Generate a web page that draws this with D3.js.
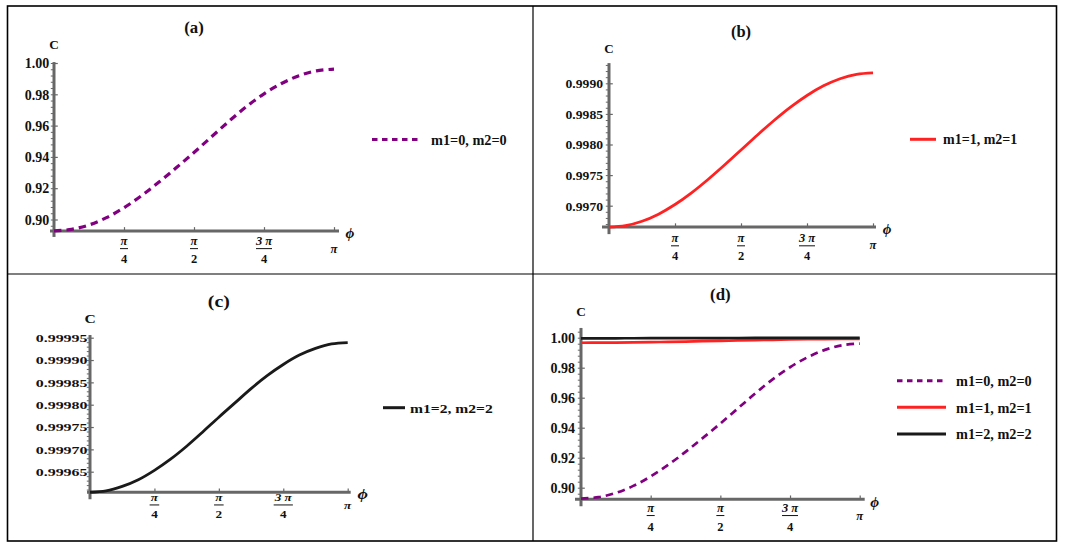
<!DOCTYPE html>
<html><head><meta charset="utf-8">
<script src="https://cdn.jsdelivr.net/npm/d3@7/dist/d3.min.js"></script>
<style>
body{margin:0;background:#fff}
svg{display:block}
text{font-family:"Liberation Serif","Times New Roman",serif;font-weight:bold;fill:#111}
</style>
</head><body>
<svg id="c" width="1067" height="549"></svg>
<script>
// ---------- data ----------
const phiOverPi = [0,0.0625,0.125,0.1875,0.25,0.3125,0.375,0.4375,0.5,0.5625,0.625,0.6875,0.75,0.8125,0.875,0.9375,1];
const cM0 = [0.8927,0.8937,0.8965,0.9012,0.9075,0.9152,0.9239,0.9332,0.9428,0.9528,0.9628,0.9722,0.9803,0.9869,0.9919,0.9950,0.9961];
const cM1 = [0.996650,0.996674,0.996746,0.996862,0.997019,0.997210,0.997428,0.997664,0.997910,0.998156,0.998392,0.998610,0.998801,0.998958,0.999074,0.999146,0.999170];
const cM2 = [0.999604,0.999607,0.999617,0.999632,0.999653,0.999678,0.999707,0.999739,0.999772,0.999804,0.999836,0.999865,0.999890,0.999911,0.999926,0.999936,0.999939];
const seriesNames = ["m1=0, m2=0","m1=1, m2=1","m1=2, m2=2"];
const seriesColors = ["#800080","#ff2222","#1a1a1a"];
const seriesDash = ["7.5,5",null,null];
const legendDash = ["5.5,4.5",null,null];

const yTicksA = [0.90,0.92,0.94,0.96,0.98,1.00];
const yLabelsA = ["0.90","0.92","0.94","0.96","0.98","1.00"];
const yTicksB = [0.9970,0.9975,0.9980,0.9985,0.9990];
const yLabelsB = ["0.9970","0.9975","0.9980","0.9985","0.9990"];
const yTicksC = [0.99965,0.99970,0.99975,0.99980,0.99985,0.99990,0.99995];
const yLabelsC = ["0.99965","0.99970","0.99975","0.99980","0.99985","0.99990","0.99995"];

const xTicks = [0.25,0.5,0.75,1];
const xTickNum = ["π","π","3 π","π"];
const xTickDen = ["4","2","4",""];
const panelTitles = ["(a)","(b)","(c)","(d)"];

// ---------- drawing ----------
const svg = d3.select("#c");
const AX = "#676767";

svg.append("rect").attr("x",7.5).attr("y",6).attr("width",1049).attr("height",535)
  .attr("fill","none").attr("stroke","#000").attr("stroke-width",1.6);
svg.append("line").attr("x1",533).attr("x2",533).attr("y1",6).attr("y2",541).attr("stroke","#000").attr("stroke-width",1.2);
svg.append("line").attr("x1",7.5).attr("x2",1056.5).attr("y1",274).attr("y2",274).attr("stroke","#000").attr("stroke-width",1.2);

const seriesData = [cM0,cM1,cM2].map(arr => arr.map((v,i)=>[phiOverPi[i],v]));

const panels = [
 {title:panelTitles[0], titleY:27.7, x0:54, x1:334, yDom:[0.90,1.00], yRng:[219.5,63], yMin:0.8927, yMax:1.0006,
  ticks:yTicksA, labels:yLabelsA, minor:0.004, fs:14, sx:1.0, lpad:4.7, series:[0], sw:3.2,
  leg:{x1:372,x2:421,tx:431,ys:[139.5],fs:14,sx:1.02},
  frac:{num:10,bar:17.7,den:27.7,pi:17.7,fs:12.5,sx:1}, xExt:[-4,5], yExt:6, phiDx:16, cDy:18},
 {title:panelTitles[1], titleY:31.7, x0:609, x1:873, yDom:[0.9970,0.9990], yRng:[205.7,83.3], yMin:0.99665, yMax:0.99933,
  ticks:yTicksB, labels:yLabelsB, minor:0.0001, fs:13, sx:1.05, lpad:6, series:[1], sw:2.8,
  leg:{x1:910,x2:936,tx:943,ys:[139.3],fs:14,sx:1.0},
  frac:{num:11,bar:18.7,den:29.3,pi:17.7,fs:12.5,sx:1}, xExt:[-7,3], yExt:7, phiDx:16, cDy:15},
 {title:panelTitles[2], titleY:301.7, x0:90, x1:347.7, yDom:[0.99965,0.99995], yRng:[471.7,337.7], yMin:0.999604, yMax:0.999956,
  ticks:yTicksC, labels:yLabelsC, minor:0.00001, fs:11, sx:1.45, lpad:2.5, series:[2], sw:2.8,
  leg:{x1:383,x2:405,tx:410,ys:[407.7],fs:13,sx:1.2},
  frac:{num:5.5,bar:12.7,den:22,pi:12.7,fs:11,sx:1.2}, xExt:[-3,3], yExt:7, phiDx:17, cDy:17},
 {title:panelTitles[3], titleY:295, x0:581, x1:859.7, yDom:[0.90,1.00], yRng:[487.7,337.7], yMin:0.8923, yMax:1.0065,
  ticks:yTicksA, labels:yLabelsA, minor:0.004, fs:14, sx:1.0, lpad:6, series:[0,1,2], sw:2.7,
  leg:{x1:897,x2:946,tx:956,ys:[380.7,407.3,434],fs:14,sx:1.02},
  frac:{num:9,bar:16.3,den:27.3,pi:16.3,fs:12.5,sx:1}, xExt:[-6,5], yExt:7, phiDx:15, cDy:16}
];

function txt(g, x, y, s, o){
  o = o||{};
  const t = g.append("text")
    .attr("transform", `translate(${x},${y}) scale(${o.sx||1},1)`)
    .attr("text-anchor", o.anchor||"middle")
    .attr("dominant-baseline","central")
    .attr("font-size", o.fs||13)
    .text(s);
  if (o.italic) t.attr("font-style","italic");
  return t;
}

panels.forEach(p => {
  const g = svg.append("g");
  const x = d3.scaleLinear().domain([0,1]).range([p.x0,p.x1]);
  const y = d3.scaleLinear().domain(p.yDom).range(p.yRng);
  const axisY = y(p.yMin);
  const topY = y(p.yMax);

  // minor y ticks (left)
  const minorVals = d3.range(Math.ceil(p.yMin/p.minor - 1e-6), Math.floor(p.yMax/p.minor + 1e-6)+1)
      .map(k => k*p.minor);
  const gMinor = g.append("g").attr("transform",`translate(${p.x0},0)`)
     .call(d3.axisLeft(y).tickValues(minorVals).tickSize(3.2).tickFormat(""));
  gMinor.select(".domain").remove();
  gMinor.selectAll("line").attr("stroke",AX).attr("stroke-width",1);

  // major y ticks with labels
  const gy = g.append("g").attr("transform",`translate(${p.x0},0)`)
     .call(d3.axisLeft(y).tickValues(p.ticks).tickSize(-3.8).tickPadding(p.lpad)
       .tickFormat((d,i)=>p.labels[i]));
  gy.select(".domain").remove();
  gy.selectAll("line").attr("stroke",AX).attr("stroke-width",1.2);
  gy.selectAll("text")
    .attr("font-family",'"Liberation Serif","Times New Roman",serif')
    .attr("font-weight","bold").attr("font-size",p.fs).attr("fill","#111")
    .attr("x", -p.lpad/p.sx).attr("dy","0.34em")
    .attr("transform",`scale(${p.sx},1)`);

  // x ticks
  const gx = g.append("g").attr("transform",`translate(0,${axisY})`)
     .call(d3.axisBottom(x).tickValues(xTicks).tickSize(-3.8).tickFormat(""));
  gx.select(".domain").remove();
  gx.selectAll("line").attr("stroke",AX).attr("stroke-width",1.2);

  // axis lines
  g.append("line").attr("x1",p.x0+p.xExt[0]).attr("x2",p.x1+p.xExt[1]).attr("y1",axisY).attr("y2",axisY)
    .attr("stroke",AX).attr("stroke-width",3);
  g.append("line").attr("x1",p.x0).attr("x2",p.x0).attr("y1",topY).attr("y2",axisY+p.yExt)
    .attr("stroke",AX).attr("stroke-width",3);

  // x tick labels (fractions of pi)
  const f = p.frac;
  xTicks.forEach((v,i)=>{
    const cx = x(v);
    if (xTickDen[i]) {
      txt(g, cx, axisY+f.num, xTickNum[i], {fs:f.fs, sx:f.sx, italic:true});
      const w = (xTickNum[i].length>1 ? 16 : 8)*f.sx;
      g.append("line").attr("x1",cx-w/2).attr("x2",cx+w/2).attr("y1",axisY+f.bar).attr("y2",axisY+f.bar)
        .attr("stroke","#111").attr("stroke-width",1);
      txt(g, cx, axisY+f.den, xTickDen[i], {fs:f.fs, sx:f.sx});
    } else {
      txt(g, cx, axisY+f.pi, xTickNum[i], {fs:f.fs, sx:f.sx, italic:true});
    }
  });

  // axis labels
  txt(g, p.x1+p.xExt[1]+p.phiDx-5, axisY+2, "ϕ", {fs:15, sx:p.leg.sx, italic:true});
  txt(g, p.x0, topY-p.cDy, "C", {fs:13, sx:p.leg.sx});
  // title
  txt(g, x(0.5), p.titleY, p.title, {fs:16.5, sx:p.leg.sx});

  // curves
  const line = d3.line().x(d=>x(d[0])).y(d=>y(d[1])).curve(d3.curveCatmullRom.alpha(0.5));
  p.series.forEach(si=>{
    const path = g.append("path").datum(seriesData[si]).attr("d",line)
      .attr("fill","none").attr("stroke",seriesColors[si]).attr("stroke-width",p.sw)
      .attr("stroke-linecap","butt");
    if (seriesDash[si]) path.attr("stroke-dasharray",seriesDash[si]);
  });

  // legend
  p.series.forEach((si,k)=>{
    const ly = p.leg.ys[k];
    const l = g.append("line").attr("x1",p.leg.x1).attr("x2",p.leg.x2).attr("y1",ly).attr("y2",ly)
      .attr("stroke",seriesColors[si]).attr("stroke-width",3);
    if (legendDash[si]) l.attr("stroke-dasharray",legendDash[si]);
    txt(g, p.leg.tx, ly+0.5, seriesNames[si], {fs:p.leg.fs, sx:p.leg.sx, anchor:"start"});
  });
});
</script>
</body></html>
